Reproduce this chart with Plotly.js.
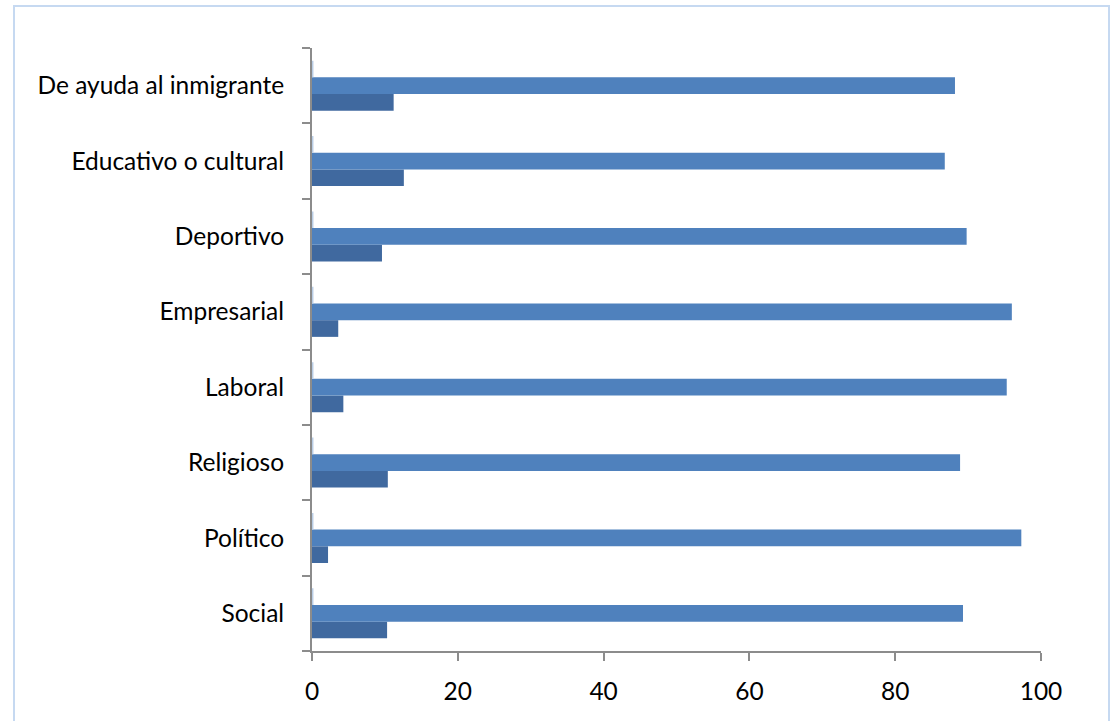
<!DOCTYPE html>
<html>
<head>
<meta charset="utf-8">
<script src="https://cdn.plot.ly/plotly-3.0.1.min.js"></script>
<style>
  html, body { margin: 0; padding: 0; background: #ffffff; }
  #chart { width: 1114px; height: 721px; }
  #frame { position: absolute; left: 13px; top: 5px; width: 1097px; height: 730px;
           border: 2px solid #C6D9F1; pointer-events: none; box-sizing: border-box; }
</style>
</head>
<body>
<div id="chart"></div>
<div id="frame"></div>
<script>
const categories = ["Social", "Político", "Religioso", "Laboral", "Empresarial", "Deportivo", "Educativo o cultural", "De ayuda al inmigrante"];
const seriesDark = [10.3, 2.2, 10.4, 4.3, 3.6, 9.6, 12.6, 11.2];
const seriesMain = [89.3, 97.3, 88.9, 95.3, 96.0, 89.8, 86.8, 88.2];
const seriesTiny = [0.2, 0.2, 0.2, 0.2, 0.2, 0.2, 0.2, 0.2];
const xTicks = [0, 20, 40, 60, 80, 100];

const traces = [
  { type: "bar", orientation: "h", y: categories, x: seriesDark, name: "A",
    marker: { color: "#40699F" }, hoverinfo: "x+y" },
  { type: "bar", orientation: "h", y: categories, x: seriesMain, name: "B",
    marker: { color: "#4F81BD" }, hoverinfo: "x+y" },
  { type: "bar", orientation: "h", y: categories, x: seriesTiny, name: "C",
    marker: { color: "#B9CDE5" }, hoverinfo: "x+y" }
];

const layout = {
  width: 1114, height: 721,
  margin: { l: 312, r: 73, t: 48, b: 70 },
  barmode: "group",
  bargap: 0.335,
  bargroupgap: 0,
  showlegend: false,
  paper_bgcolor: "#ffffff",
  plot_bgcolor: "#ffffff",
  font: { family: "Lato, 'Open Sans', sans-serif", size: 24.5, color: "#000000" },
  xaxis: {
    range: [0, 100], tickvals: xTicks, ticktext: xTicks.map(String),
    showgrid: false, zeroline: false, showline: true, linecolor: "#8C8C8C", linewidth: 2,
    ticks: "outside", ticklen: 8, tickwidth: 2, tickcolor: "#8C8C8C",
    ticklabelstandoff: 10, fixedrange: true
  },
  yaxis: {
    type: "category", categoryorder: "array", categoryarray: categories,
    showgrid: false, zeroline: false, showline: true, linecolor: "#8C8C8C", linewidth: 2,
    ticks: "outside", ticklen: 8, tickwidth: 2, tickcolor: "#8C8C8C",
    tickson: "boundaries", ticklabelstandoff: 21, fixedrange: true
  }
};

Plotly.newPlot("chart", traces, layout, { displayModeBar: false, staticPlot: true });
</script>
</body>
</html>
